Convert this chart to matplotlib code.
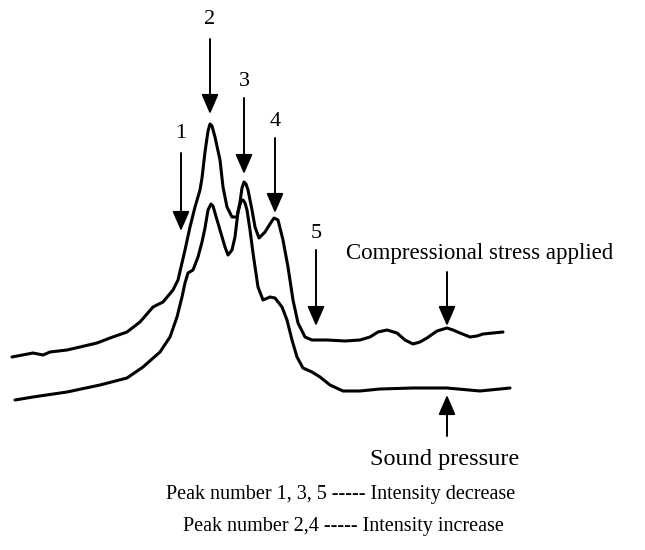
import matplotlib
matplotlib.use("Agg")
import matplotlib.pyplot as plt

# Upper trace: compressional stress applied (pixel-like coordinates, y downwards)
upper_x = [12, 33, 43, 50, 67, 80, 97, 110, 127, 140, 153, 163, 173, 178, 185, 190, 195, 200,
           202, 205, 208, 210, 212, 215, 220, 223, 227, 232, 237, 240, 242, 244, 246, 248, 252,
           255, 259, 265, 270, 274, 278, 283, 288, 293, 298, 305, 312, 327, 345, 360, 370, 378,
           387, 397, 405, 413, 420, 427, 437, 447, 453, 460, 470, 477, 483, 493, 503]
upper_y = [357, 353, 355, 352, 350, 347, 343, 338, 332, 322, 307, 302, 290, 280, 250, 227, 207, 190,
           178, 152, 131, 124, 126, 137, 160, 187, 207, 217, 217, 202, 188, 182, 184, 190, 210,
           227, 238, 232, 224, 218, 220, 240, 267, 300, 323, 337, 340, 340, 341, 340, 337, 332,
           330, 333, 340, 344, 342, 338, 331, 328, 330, 333, 337, 336, 334, 333, 332]

# Lower trace: sound pressure
lower_x = [15, 33, 67, 100, 127, 143, 160, 170, 177, 182, 185, 188, 193, 198, 202, 205, 208, 211,
           213, 215, 220, 225, 228, 232, 235, 238, 241, 243, 245, 247, 250, 253, 258, 263, 270,
           275, 282, 287, 292, 297, 303, 312, 320, 330, 343, 360, 380, 413, 447, 480, 510]
lower_y = [400, 397, 392, 385, 378, 367, 352, 337, 317, 297, 283, 273, 270, 257, 242, 228, 210, 204,
           206, 213, 230, 247, 255, 250, 237, 212, 201, 200, 203, 210, 230, 253, 287, 300, 297,
           298, 307, 320, 340, 357, 368, 372, 377, 385, 391, 391, 389, 388, 388, 391, 388]

# Peak annotations
peak_labels = ["1", "2", "3", "4", "5"]
peak_x = [181, 210, 244, 275, 316]
peak_label_y = [133, 19, 81, 122, 234]
peak_arrow_top = [153, 39, 98, 138, 250]
peak_arrow_tip = [231, 114, 174, 213, 326]

legend_lines = ["Peak number 1, 3, 5 ----- Intensity decrease",
                "Peak number 2,4 ----- Intensity increase"]

W, H = 645, 550
fig = plt.figure(figsize=(W / 100, H / 100), dpi=100)
ax = fig.add_axes([0, 0, 1, 1])
ax.set_xlim(0, W)
ax.set_ylim(H, 0)
ax.axis("off")

serif = ["Liberation Serif", "DejaVu Serif"]

for xs, ys in ((upper_x, upper_y), (lower_x, lower_y)):
    ax.plot(xs, ys, color="black", lw=2.2, solid_joinstyle="round", solid_capstyle="round")

arrow_style = dict(arrowstyle="-|>,head_length=1.2,head_width=0.52", color="black",
                   lw=1.4, mutation_scale=10, shrinkA=0, shrinkB=0)

for lab, x, ly, top, tip in zip(peak_labels, peak_x, peak_label_y, peak_arrow_top, peak_arrow_tip):
    ax.text(x, ly, lab, ha="center", va="center", fontsize=16, family=serif)
    ax.annotate("", xy=(x, tip), xytext=(x, top), arrowprops=arrow_style)

# Compressional stress applied
ax.text(480, 253, "Compressional stress applied", ha="center", va="center", fontsize=16.5, family=serif)
ax.annotate("", xy=(447, 326), xytext=(447, 272), arrowprops=arrow_style)

# Sound pressure
ax.annotate("", xy=(447, 395), xytext=(447, 436), arrowprops=arrow_style)
ax.text(445, 459, "Sound pressure", ha="center", va="center", fontsize=17.5, family=serif)

ax.text(341, 495, legend_lines[0], ha="center", va="center", fontsize=14.5, family=serif)
ax.text(343, 527, legend_lines[1], ha="center", va="center", fontsize=14.5, family=serif)

fig.savefig("out.png", dpi=100, facecolor="white")
